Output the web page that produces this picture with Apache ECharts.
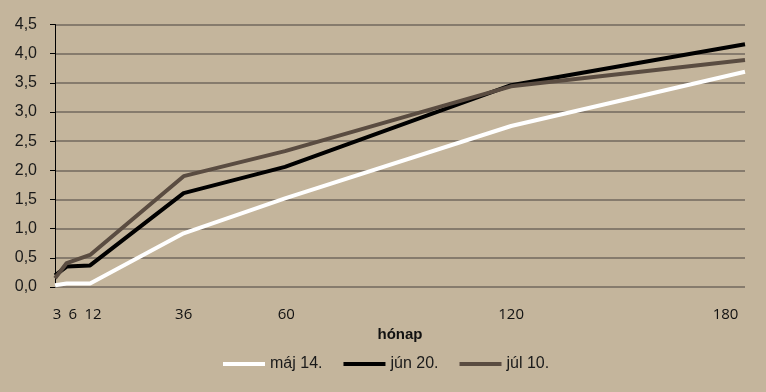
<!DOCTYPE html>
<html>
<head>
<meta charset="utf-8">
<script src="https://cdn.jsdelivr.net/npm/echarts@6/dist/echarts.min.js"></script>
<style>
html,body{margin:0;padding:0;background:#c4b59c;}
#chart{width:766px;height:392px;}
</style>
</head>
<body>
<div id="chart"></div>
<script>
// Maturity in months (x positions)
var maturities = [3, 6, 12, 36, 62, 120, 180];
var xTickLabels = [3, 6, 12, 36, 60, 120, 180];
var seriesNames = ['máj 14.', 'jún 20.', 'júl 10.'];
var maj14 = [0.03, 0.06, 0.06, 0.92, 1.52, 2.76, 3.69];
var jun20 = [0.20, 0.35, 0.37, 1.61, 2.06, 3.46, 4.16];
var jul10 = [0.15, 0.41, 0.55, 1.90, 2.33, 3.44, 3.89];

// label nudges (style only) to mimic reference label placement
var labelPad = {3: [0, 0, 0, 4], 6: [0, 0, 0, 12], 12: [0, 0, 0, 6], 36: [0, 0, 0, 0],
                60: [0, 0, 0, 18], 120: [0, 0, 0, 0], 180: [0, 39, 0, 0]};
var labelStyles = {};
Object.keys(labelPad).forEach(function (k) {
  labelStyles['t' + k] = {padding: labelPad[k], fontFamily: 'Open Sans', fontSize: 15, color: '#111'};
});

function pairs(vals) {
  return vals.map(function (v, i) { return [maturities[i], v]; });
}

var colors = ['#ffffff', '#000000', '#5a4c41'];
var chart = echarts.init(document.getElementById('chart'));
chart.setOption({
  backgroundColor: '#c4b59c',
  animation: false,
  grid: {left: 55, right: 21, top: 24.5, bottom: 105},
  xAxis: {
    type: 'value',
    min: 3,
    max: 180,
    name: 'hónap',
    nameLocation: 'middle',
    nameGap: 37,
    nameTextStyle: {fontFamily: 'Liberation Sans', fontWeight: 'bold', fontSize: 15, color: '#111'},
    axisLine: {show: false},
    axisTick: {show: false},
    splitLine: {show: false},
    axisLabel: {
      customValues: xTickLabels,
      margin: 20,
      fontFamily: 'Open Sans',
      fontSize: 15,
      color: '#111',
      formatter: function (v) { return '{t' + v + '|' + v + '}'; },
      rich: labelStyles
    }
  },
  yAxis: {
    type: 'value',
    min: 0,
    max: 4.5,
    interval: 0.5,
    axisLine: {show: true, lineStyle: {color: '#000', width: 1}},
    axisTick: {show: true, length: 5, lineStyle: {color: '#000'}},
    splitLine: {show: true, lineStyle: {color: '#867b6d', width: 2}},
    axisLabel: {
      margin: 18,
      fontFamily: 'Liberation Sans',
      fontSize: 16,
      color: '#1a1a1a',
      formatter: function (v) { return v.toFixed(1).replace('.', ','); }
    }
  },
  legend: {
    left: 223,
    top: 356,
    padding: 0,
    icon: 'rect',
    itemWidth: 42,
    itemHeight: 4,
    itemGap: 21,
    textStyle: {fontFamily: 'Liberation Sans', fontSize: 16, color: '#1a1a1a'},
    data: seriesNames
  },
  series: [
    {name: seriesNames[0], type: 'line', data: pairs(maj14), symbol: 'none', lineStyle: {color: colors[0], width: 4}, itemStyle: {color: colors[0]}},
    {name: seriesNames[1], type: 'line', data: pairs(jun20), symbol: 'none', lineStyle: {color: colors[1], width: 4}, itemStyle: {color: colors[1]}},
    {name: seriesNames[2], type: 'line', data: pairs(jul10), symbol: 'none', lineStyle: {color: colors[2], width: 4}, itemStyle: {color: colors[2]}}
  ]
});
</script>
</body>
</html>
